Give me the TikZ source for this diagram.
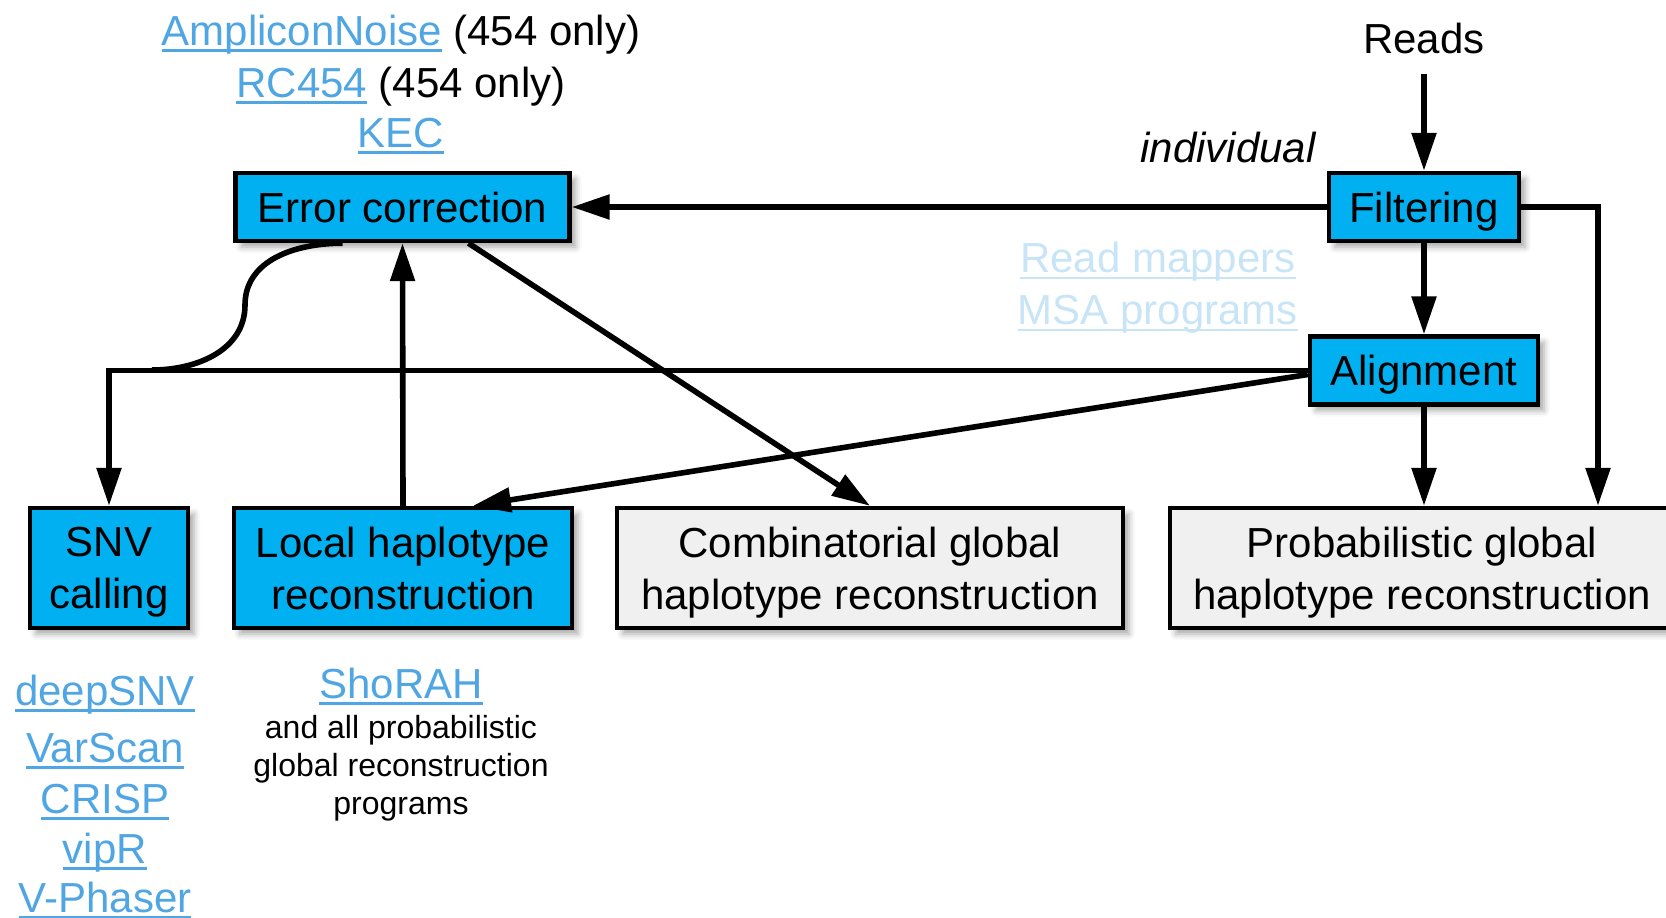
\documentclass[tikz,border=0pt]{standalone}
\usepackage{fontspec}
\setmainfont{Liberation Sans}
\usetikzlibrary{arrows.meta,shadows.blur}
\definecolor{boxblue}{HTML}{00B0F0}
\definecolor{boxgray}{HTML}{F0F0F0}
\definecolor{linkblue}{HTML}{4FA6E3}
\definecolor{linkpale}{HTML}{C8E4F7}
% underlined link text
\newcommand{\weblink}[2][linkblue]{{\color{#1}\setbox0\hbox{#2}\rlap{\rule[-3.3pt]{\wd0}{1.3pt}}\box0}}

\begin{document}
\begin{tikzpicture}[x=0.5pt,y=-0.5pt,
  every node/.style={font=\fontsize{21}{26}\selectfont},
  stage/.style={draw,line width=2.2pt,fill=boxblue,align=center,inner sep=0pt,
    blur shadow={shadow xshift=3pt,shadow yshift=-3pt,shadow blur radius=3pt,shadow opacity=35}},
  oneline/.style={text depth=0pt},
  global/.style={stage,fill=boxgray},
  flow/.style={line width=2.8pt},
  arr/.style={flow,-{Triangle[length=19pt,width=12pt]}},
  small/.style={font=\fontsize{16}{19}\selectfont,align=center}]
\clip (0,0) rectangle (1666,917);

% pipeline boxes
\node[stage,oneline,minimum width=167pt,minimum height=34pt] (err) at (402.5,207) {Error correction};
\node[stage,oneline,minimum width=95pt,minimum height=34pt] (filt) at (1424,207) {Filtering};
\node[stage,oneline,minimum width=114pt,minimum height=34pt] (align) at (1424,370.5) {Alignment};
\node[stage,minimum width=79pt,minimum height=60pt] (snv) at (109,568) {SNV\\\smash{calling}};
\node[stage,minimum width=169pt,minimum height=60pt] (local) at (403,568) {Local haplotype\\\smash{reconstruction}};
\node[global,minimum width=253pt,minimum height=60pt] (comb) at (870,568) {Combinatorial global\\\smash{haplotype reconstruction}};
\node[global,minimum width=252pt,minimum height=60pt] (prob) at (1422,568) {Probabilistic global\\\smash{haplotype reconstruction}};

% labels
\node (reads) at (1424,38) {Reads};
\node (indiv) at (1228,147) {\itshape individual};
\node[anchor=base] (ec1) at (401,45) {\weblink{AmpliconNoise} (454 only)};
\node[anchor=base] (ec2) at (401,97) {\weblink{RC454} (454 only)};
\node[anchor=base] (ec3) at (401,147) {\weblink{KEC}};
\node[align=center] (mappers) at (1158,288) {\weblink[linkpale]{Read mappers}\\\weblink[linkpale]{MSA programs}};
\foreach \t/\y [count=\i] in {deepSNV/705,VarScan/762,CRISP/813,vipR/863,V-Phaser/912}
  \node[anchor=base] (snvtool\i) at (105,\y) {\weblink{\t}};
\node[anchor=base] (shorah) at (401,698) {\weblink{ShoRAH}};
\node[small] (probtools) at (401,768) {and all probabilistic\\global reconstruction\\programs};

\coordinate (bend) at (245,305);
\coordinate (merge) at (152,370);

% connectors
\draw[arr,shorten <=7pt] (reads.south) -- (filt.north);
\draw[arr] (filt.west) -- (err.east);
\draw[arr] (filt.south) -- (align.north);
\draw[arr] (filt.east) -| ([xshift=88pt]prob.north);
\draw[arr] (align.south) -- (align.south |- prob.north);
\draw[arr] (align.west) -| (snv.north);
\draw[arr] ([yshift=-2pt]align.west) -- ([xshift=35pt]local.north);
\draw[arr] (local.north) -- (err.south);
\draw[arr] ([xshift=33pt]err.south) -- (comb.north);
\draw[flow] ([xshift=-30pt]err.south) .. controls +(-47,0) and +(0,-45) .. (bend)
  .. controls +(0,45) and +(45,0) .. (merge);
\end{tikzpicture}
\end{document}
